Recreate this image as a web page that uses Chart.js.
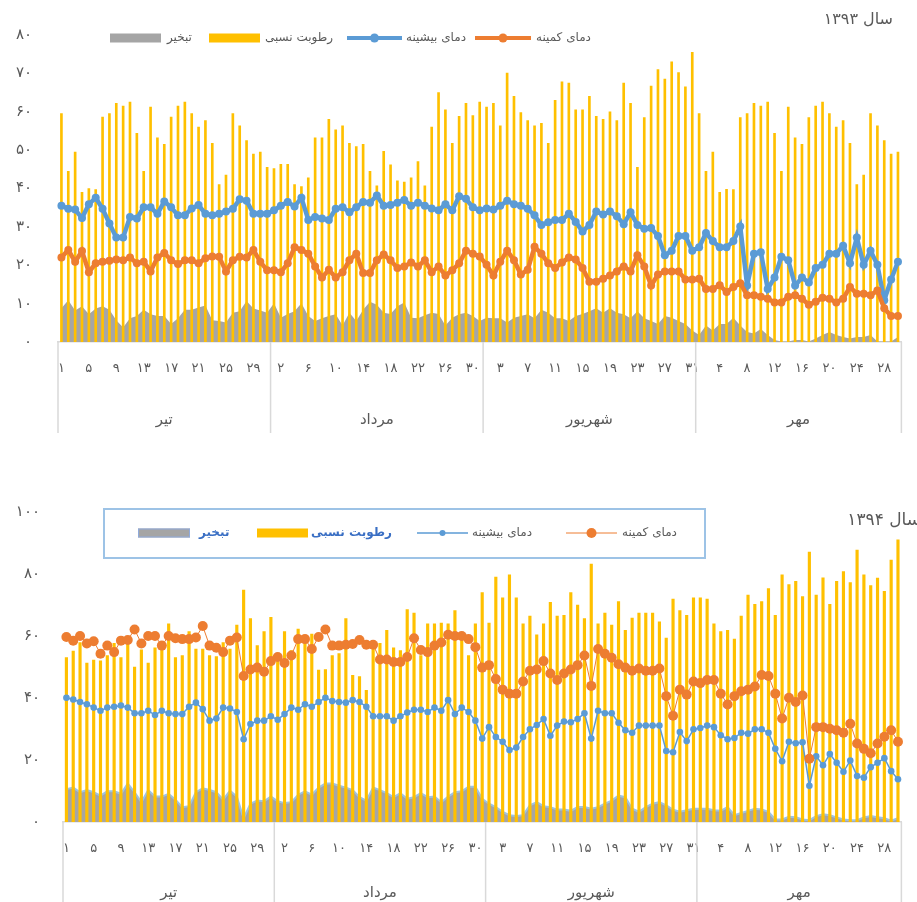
<!DOCTYPE html>
<html><head><meta charset="utf-8">
<script src="https://cdn.jsdelivr.net/npm/chart.js@4.4.1/dist/chart.umd.min.js"></script>
<style>
body{margin:0;background:#fff;width:917px;height:902px;overflow:hidden;position:relative}
canvas{position:absolute;left:0}
#c1{top:0}
#c2{top:480px}
</style></head><body>
<canvas id="c1" width="917" height="440"></canvas>
<canvas id="c2" width="917" height="422"></canvas>
<script>
// ---- categories ----
const months = ['تیر', 'مرداد', 'شهریور', 'مهر'];
const monthDays = [31, 31, 31, 30];
const seriesNames = ['تبخیر', 'رطوبت نسبی', 'دمای بیشینه', 'دمای کمینه'];
const titles = ['سال ۱۳۹۳', 'سال ۱۳۹۴'];
const yTicks93 = [0, 10, 20, 30, 40, 50, 60, 70, 80];
const yTicks94 = [0, 20, 40, 60, 80, 100];

// ---- year 1393 ----
const maxT93 = [35.5,34.7,34.5,32.3,35.9,37.6,34.7,30.9,27.2,27.2,
32.6,32.2,35.1,35.1,33.4,36.6,35.1,33,33,34.8,
35.7,33.4,33,33.4,34,34.7,37.2,36.8,33.4,33.4,
33.4,34.3,35.5,36.5,35.3,37.6,31.8,32.6,32.2,31.8,
34.7,35.1,33.8,35.1,36.5,36.3,38.2,35.5,35.7,36.3,
37,35.5,36.3,35.5,34.8,34.3,35.9,34.3,38,37.3,
35.1,34.3,
34.8,34.5,35.5,36.8,35.9,35.5,34.7,33,30.5,31.2,
31.8,31.8,33.4,31.3,28.8,30.5,34,33.2,34,32.8,
30.7,33.8,30.5,29.5,29.7,27.6,22.6,23.8,27.6,27.6,
23.8,24.7,28.4,26.3,24.7,24.7,26.3,30.1,14.7,23,
23.4,13.8,16.8,22.2,21.3,14.7,16.8,15.5,19.3,20.1,
23,23,25.1,20.5,27.2,20.1,23.8,20.1,10.9,16.3,
20.9];
const minT93 = [22,24,20.9,23.7,18.2,20.5,20.9,21.2,21.5,21.3,
22,20.5,20.9,18.4,22,23.2,21.3,20.3,21.3,21.3,
20.5,21.8,22.3,22.2,18.4,21.3,22.2,22,24,20.9,
18.7,18.7,18.2,20.5,24.7,24,23,19.7,16.8,18.8,
16.8,18.2,21.3,23,18,18,21.3,22.8,21.3,19.3,
19.7,20.7,19.7,21.3,18.2,19.7,17.3,18.7,20.5,23.8,
23,22.3,
20.1,17.3,20.9,23.8,21.3,17.6,18.8,24.8,23,20.5,
19.3,20.7,22,21.5,19.3,15.7,15.7,16.5,17.3,18.4,
19.7,18.4,22.6,19.7,14.7,17.6,18.4,18.4,18.4,16.3,
16.3,16.5,13.8,13.8,14.8,13,14.3,15.3,12.2,12.2,
11.8,11.3,10.3,10.3,11.8,12.2,11.3,9.7,10.5,11.5,
11.3,10.3,11.3,14.3,12.6,12.6,12.2,13.4,8.8,6.8,
6.8];
const hum93 = [59.5,44.5,49.5,39,40,39.7,58.6,59.5,62.2,61.5,
62.5,54.4,44.5,61.2,53.2,51.5,58.6,61.5,62.5,59.5,
56,57.7,51.8,41,43.5,59.5,56.3,52.5,49,49.5,
45.5,45.2,46.3,46.3,41,40.5,42.8,53.2,53.2,58,
55.3,56.3,51.8,50.9,51.5,44.5,40.7,49.7,46.2,42,
41.7,42.8,47,40.7,56,65,60.5,51.8,58.8,62.2,
59,62.5,
61.2,62.2,56.3,70.1,64,59.8,57.7,56.3,57,51.8,
63,67.8,67.5,60.5,60.5,64,58.8,58,60,57.7,
67.5,62.2,45.5,58.5,66.7,71,68.5,73,70.2,66.5,
75.5,59.5,44.5,49.5,39,39.8,39.7,58.5,59.5,62.2,
61.5,62.5,54.4,44.5,61.2,53.2,51.5,58.5,61.5,62.5,
59.5,56,57.7,51.8,41,43.5,59.5,56.3,52.5,49,
49.5];
const evap93 = [8.8,10.9,8.2,9.3,7.2,8.7,9.3,8.4,5.7,3.8,
6.2,6.8,8.4,7.2,6.8,6.8,4.7,6.2,8.4,8.4,
9,9.5,5.7,5.5,5.1,7.6,8,10.7,8.7,8.2,
7.6,10.1,6.3,7.3,8,10.1,6.8,5.5,6.2,6.8,
7.2,4.3,7.6,5.5,8.4,10.5,9.7,7.6,7.3,9.3,
10.3,6.3,6.2,7,7.6,7.3,4.3,6.3,7.2,7.6,
6.8,5.5,
6.3,6.2,6.2,5.1,6.3,6.8,7.2,6.2,8.4,7.6,
6.2,6.2,5.5,6.8,7.3,8,8.8,7.6,8.8,7.6,
7.2,6.2,8,6.2,5.5,4.7,6.8,6.3,5.5,4.7,
3,1.8,4.3,3,4.7,4.7,6.3,4.3,2.6,2.2,
3.4,1.8,0.5,0.1,0.1,0.5,0.5,0.1,0.9,1.8,
2.6,1.8,1.3,0.9,1.3,1.3,1.8,0.1,0.1,0.1,
1.3];

// ---- year 1394 ----
const minT94 = [59.7,58.5,60,57.6,58.3,54.3,56.9,54.8,58.5,58.7,
62.1,57.6,60,60,56.9,60,59.3,59,59,59.5,
63.2,56.9,56.2,54.8,58.5,59.5,47.1,49.2,49.8,48.5,
51.9,53.2,51.3,53.7,59,59,55.8,59.7,62.1,56.9,
56.9,57.2,57.4,58.7,57.2,57.2,52.4,52.4,51.6,51.6,
53.2,59.3,55.5,54.8,56.9,57.9,60.4,60,60,59,
56.4,49.8,
50.6,46.1,42.7,41.4,41.4,45.3,48.8,49.2,51.9,47.9,
45.8,47.9,49.2,50.6,53.7,43.9,55.8,54.3,53,50.9,
49.8,48.8,49.5,48.8,48.8,49.5,40.6,34.3,42.7,41.1,
45.3,44.8,45.8,45.8,41.4,37.9,40.6,42.2,42.7,43.7,
47.4,47.1,41.4,33.4,40.1,38.7,40.8,20.4,30.6,30.6,
30.1,29.6,28.8,31.7,25.3,23.6,22.2,25.3,27.5,29.6,
25.9];
const maxT94 = [40.1,39.5,38.7,38,36.9,35.9,36.9,37.2,37.6,36.9,
35.1,35.1,35.9,34.5,35.9,35.1,34.8,34.8,37.2,38.5,
36.4,32.7,33.4,36.9,36.6,35.5,26.7,31.6,32.7,32.7,
34.1,33,34.8,36.9,36.2,38,37.2,38.7,40.1,39,
38.7,38.5,39.3,38.7,37.2,34.1,34.1,34.1,32.7,34.1,
35.3,36.2,36.2,35.5,36.9,35.9,39.3,34.8,36.9,35.5,
32.7,26.9,
30.6,27.4,25.9,23.2,24,27.4,29.9,31.3,33.2,27.8,
31.1,32.4,32.2,33.2,35.1,26.9,35.9,35.1,35.1,32,
29.6,28.8,31.1,31.1,31.1,31.1,22.9,22.5,29,26.1,
29.9,30.3,31.1,30.6,28,26.7,27.1,28.8,28.5,29.9,
29.9,28.8,23.6,19.6,25.9,25.4,25.7,11.7,21.2,18.3,
21.9,19.1,16.2,19.8,14.8,14.3,17.7,19.1,20.6,16.4,
13.8];
const hum94 = [53,55.1,57.9,51.3,52.2,52,53.7,57.6,53,58.5,
50,55.5,51.3,56.2,57.6,63.9,53,53.7,61.4,55.8,
55.8,53.7,53.4,57.9,55.8,63.5,74.8,65.6,56.9,61.4,
66,52.7,61.4,55.3,62.2,60,60.6,49,49.2,53.7,
54.3,65.6,47.3,46.9,42.5,58.3,57.6,61.8,56.2,55.3,
68.5,67.4,53.7,63.9,63.9,64.2,63.9,68.2,59.3,53.7,
63.9,74,
64.2,79,72.3,79.7,72.3,63.9,66.4,60.4,63.9,70.9,
66.4,66.7,74,70,65.6,83.2,63.9,67.4,63.5,71.1,
61.8,65.8,67.4,67.4,67.4,64.6,59.3,71.9,68.2,66.7,
72.3,72.3,71.9,63.9,61.4,61.8,59,66.4,73.2,70.2,
71.1,75.3,66.7,79.7,76.6,77.6,72.7,87.1,73.2,78.8,
70.2,77.6,80.8,77.2,87.7,79.7,76.3,78.7,74.4,84.5,
91];
const evap94 = [10.6,11.1,9.6,10.3,9.6,8.5,9.9,9.9,9.1,12.4,
9.6,6.4,10.3,8.2,8.2,9.1,7.2,4.8,5.1,9.6,
10.9,10.3,9.6,7.2,10.1,8.2,1.2,5.9,6.9,6.7,
8.2,6.7,6.1,6.4,8.8,9.9,8.8,11.1,12.4,12.4,
11.7,11.1,10.3,8,6.9,11.1,10.3,9.3,8,9.3,
7.5,8,9.3,8,8.2,6.4,8.2,9.6,9.9,11.4,
11.4,7.5,
5.9,4.8,3.3,2.2,1.9,2.2,5.4,6.4,5.1,4.8,
4,4,3.6,4.8,4.8,4.3,4.8,5.9,6.9,8.5,
8,4.3,3.3,4.8,5.9,6.4,5.4,4,3.3,3.8,
4.3,4.3,4.3,3.8,3.6,4.8,2.2,2.9,3.6,4.3,
4,3.3,0.8,0.8,1.7,1.5,0.8,0.6,1.9,2.5,
2.2,1.5,0.8,0.6,0.6,1.5,1.9,1.5,1.2,0.4,
1.2];

// ---- helpers ----
const FONT = '"DejaVu Sans", sans-serif';
Chart.defaults.font.family = FONT;
const toFa = n => String(n).replace(/\d/g, d => '۰۱۲۳۴۵۶۷۸۹'[d]);
const dayNumbers = [];
monthDays.forEach(n => { for (let d = 1; d <= n; d++) dayNumbers.push(d); });
const labels = dayNumbers.map(String);
const C = { gray: '#A5A5A5', yellow: '#FFC000', blue: '#5B9BD5', orange: '#ED7D31', text: '#595959', axis: '#D9D9D9' };

function decor(cfg) {
  return {
    id: 'decor' + cfg.key,
    afterDraw(chart) {
      const ctx = chart.ctx, a = chart.chartArea, x = chart.scales.x;
      const n = labels.length, w = (x.right - x.left) / n;
      ctx.save();
      // month separators
      const bounds = [0];
      monthDays.forEach(d => bounds.push(bounds[bounds.length - 1] + d));
      ctx.strokeStyle = C.axis; ctx.lineWidth = 1.5;
      bounds.forEach(b => {
        const px = x.left + b * w;
        ctx.beginPath(); ctx.moveTo(px, a.bottom); ctx.lineTo(px, cfg.sepBottom); ctx.stroke();
      });
      // month names
      ctx.fillStyle = C.text; ctx.font = '15px ' + FONT;
      ctx.textAlign = 'center'; ctx.textBaseline = 'middle';
      months.forEach((m, k) => {
        ctx.fillText(m, x.left + (bounds[k] + bounds[k + 1]) / 2 * w, cfg.monthY);
      });
      // title
      ctx.direction = 'rtl';
      ctx.textAlign = 'right';
      ctx.font = cfg.titleSize + 'px ' + FONT;
      ctx.fillStyle = C.text;
      ctx.fillText(cfg.title, cfg.titleX, cfg.titleY);
      ctx.direction = 'ltr';
      // legend
      if (cfg.box) {
        ctx.strokeStyle = '#9DC3E6'; ctx.lineWidth = 2;
        ctx.strokeRect(cfg.box[0], cfg.box[1], cfg.box[2] - cfg.box[0], cfg.box[3] - cfg.box[1]);
      }
      cfg.items.forEach(it => {
        const y = cfg.legendY;
        if (it.kind === 'rect') {
          ctx.fillStyle = it.color;
          ctx.fillRect(it.x1, y - 4.5, it.x2 - it.x1, 9);
          if (it.border) { ctx.strokeStyle = it.border; ctx.lineWidth = 1; ctx.strokeRect(it.x1 + 0.5, y - 4, it.x2 - it.x1 - 1, 8); }
        } else {
          ctx.strokeStyle = it.color; ctx.lineWidth = it.lw;
          ctx.beginPath(); ctx.moveTo(it.x1, y); ctx.lineTo(it.x2, y); ctx.stroke();
          ctx.fillStyle = it.color;
          ctx.beginPath(); ctx.arc((it.x1 + it.x2) / 2, y, it.r, 0, Math.PI * 2); ctx.fill();
        }
        ctx.fillStyle = it.tc || C.text;
        ctx.font = (it.bold ? 'bold ' : '') + '12px ' + FONT;
        ctx.textAlign = 'left'; ctx.textBaseline = 'middle';
        ctx.fillText(it.text, it.tx, y);
      });
      ctx.restore();
    }
  };
}

function makeChart(id, d, opt) {
  return new Chart(document.getElementById(id), {
    type: 'bar',
    data: {
      labels,
      datasets: [
        { type: 'line', label: seriesNames[3], data: d.minT, borderColor: C.orange, backgroundColor: C.orange,
          borderWidth: opt.minLW, pointRadius: opt.minPR, pointBorderWidth: 0, pointBackgroundColor: C.orange, tension: 0, order: 0 },
        { type: 'line', label: seriesNames[2], data: d.maxT, borderColor: C.blue, backgroundColor: C.blue,
          borderWidth: opt.maxLW, pointRadius: opt.maxPR, pointBorderWidth: 0, pointBackgroundColor: C.blue, tension: 0, order: 1 },
        { type: 'bar', label: seriesNames[1], data: d.hum, backgroundColor: C.yellow, barThickness: opt.barW, order: 2 },
        { type: 'line', label: seriesNames[0], data: d.evap, fill: 'origin', backgroundColor: C.gray,
          borderColor: opt.evapBorder, borderWidth: opt.evapBW, pointRadius: 0, tension: 0, order: 3 }
      ]
    },
    options: {
      responsive: false, animation: false, devicePixelRatio: 1,
      layout: { padding: { top: opt.top, right: opt.right, left: 0, bottom: 0 } },
      plugins: { legend: { display: false }, tooltip: { enabled: false }, title: { display: false } },
      scales: {
        x: {
          offset: true,
          grid: { display: false, drawTicks: false },
          border: { display: true, color: C.axis, width: 1.5 },
          ticks: { autoSkip: false, maxRotation: 0, minRotation: 0, padding: 19, color: C.text,
            font: { size: 13, family: FONT },
            callback: (v, i) => (i % 4 === 0 ? toFa(dayNumbers[i]) : '') },
          afterFit: s => { s.height = opt.xH; }
        },
        y: {
          min: 0, max: opt.yTicks[opt.yTicks.length - 1],
          afterBuildTicks: s => { s.ticks = opt.yTicks.map(v => ({ value: v })); },
          grid: { display: false, drawTicks: false },
          border: { display: false },
          ticks: { padding: opt.yPad, color: C.text, font: { size: 15, family: FONT }, callback: v => toFa(v) },
          afterFit: s => { s.width = opt.yW; }
        }
      }
    },
    plugins: [decor(opt.decor)]
  });
}

makeChart('c1', { minT: minT93, maxT: maxT93, hum: hum93, evap: evap93 }, {
  minLW: 4.5, minPR: 4, maxLW: 4.5, maxPR: 4, barW: 2, evapBorder: C.gray, evapBW: 0,
  top: 22, right: 9, xH: 98, yW: 58, yPad: 26, yTicks: yTicks93,
  decor: {
    key: 1, sepBottom: 433, monthY: 420, title: titles[0], titleX: 893, titleY: 20, titleSize: 16,
    legendY: 38,
    items: [
      { kind: 'rect', color: C.gray, x1: 110, x2: 161, text: seriesNames[0], tx: 167 },
      { kind: 'rect', color: C.yellow, x1: 209, x2: 260, text: seriesNames[1], tx: 265 },
      { kind: 'line', color: C.blue, lw: 4, r: 4.5, x1: 347, x2: 402, text: seriesNames[2], tx: 406 },
      { kind: 'line', color: C.orange, lw: 4, r: 4.5, x1: 475, x2: 531, text: seriesNames[3], tx: 536 }
    ]
  }
});

makeChart('c2', { minT: minT94, maxT: maxT94, hum: hum94, evap: evap94 }, {
  minLW: 1, minPR: 5, maxLW: 1.5, maxPR: 3.3, barW: 2.5, evapBorder: '#9DC3E6', evapBW: 2,
  top: 25, right: 2, xH: 80, yW: 63, yPad: 23, yTicks: yTicks94,
  decor: {
    key: 2, sepBottom: 422, monthY: 413, title: titles[1], titleX: 921, titleY: 41, titleSize: 17,
    legendY: 53, box: [104, 29, 705, 78],
    items: [
      { kind: 'rect', color: C.gray, border: '#8FAADC', x1: 138, x2: 190, text: seriesNames[0], tx: 199, bold: true, tc: '#3A6FC4' },
      { kind: 'rect', color: C.yellow, x1: 257, x2: 308, text: seriesNames[1], tx: 311, bold: true, tc: '#3A6FC4' },
      { kind: 'line', color: C.blue, lw: 1.5, r: 3, x1: 417, x2: 468, text: seriesNames[2], tx: 472 },
      { kind: 'line', color: C.orange, lw: 1, r: 5, x1: 566, x2: 617, text: seriesNames[3], tx: 622 }
    ]
  }
});
</script>
</body></html>
